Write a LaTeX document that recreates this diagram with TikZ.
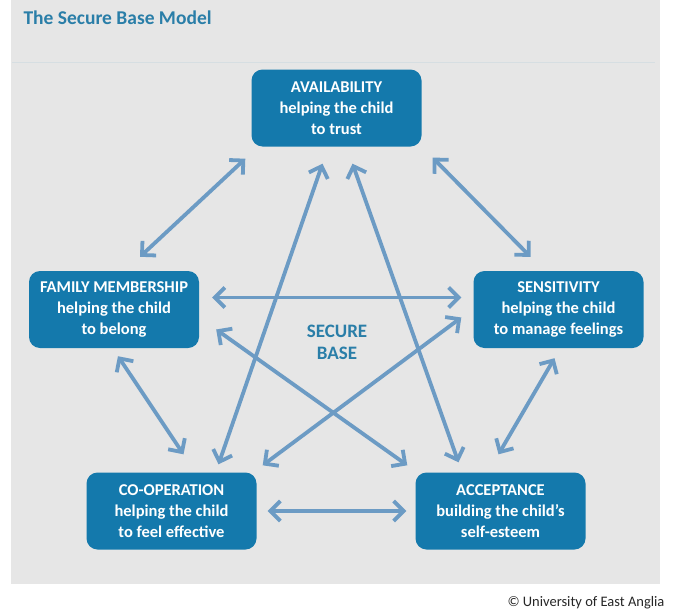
\documentclass[tikz,border=0pt]{standalone}
\usepackage{fontspec}
\setmainfont{Carlito}
\usetikzlibrary{arrows.meta}
\definecolor{panelgray}{RGB}{230,230,230}
\definecolor{boxblue}{RGB}{20,121,172}
\definecolor{titleblue}{RGB}{42,126,168}
\definecolor{arrowblue}{RGB}{108,155,196}
\definecolor{ruleline}{RGB}{214,222,226}
\tikzset{
  stage/.style={draw=none, fill=boxblue, rounded corners=11pt, text=white,
    font=\bfseries\fontsize{16.5}{21}\selectfont, align=center,
    minimum width=170pt, minimum height=77pt, inner sep=0pt},
  link/.style={draw=arrowblue, line width=3.8pt,
    {Straight Barb[length=10pt,width=20pt,line width=3.8pt]}-{Straight Barb[length=10pt,width=20pt,line width=3.8pt]}},
}
\begin{document}
\begin{tikzpicture}[x=1pt,y=-1pt]
\useasboundingbox (0,0) rectangle (675,616);
% grey panel and heading
\fill[panelgray] (11,0) rectangle (660,584);
\draw[ruleline, line width=1pt] (12,62) -- (655,62);
\node[anchor=west, text=titleblue, font=\bfseries\fontsize{19.5}{21}\selectfont] (title) at (20,18) {The Secure Base Model};

% the five stages
\node[stage] (avail)  at (336.5,108)   {AVAILABILITY\\helping the child\\to trust};
\node[stage] (family) at (114,309.5)   {FAMILY MEMBERSHIP\\helping the child\\to belong};
\node[stage] (sens)   at (558.5,309.5) {SENSITIVITY\\helping the child\\to manage feelings};
\node[stage] (coop)   at (171.5,511)   {CO-OPERATION\\helping the child\\to feel effective};
\node[stage] (accept) at (500.5,511)   {ACCEPTANCE\\building the child's\\self-esteem};

\node[text=titleblue, font=\bfseries\fontsize{19}{22}\selectfont, align=center] (core) at (337,342) {SECURE\\BASE};

% two-way links between stages
\draw[link] ([shift={(-6,12)}]avail.south west) -- ([shift={(26,-14)}]family.north);
\draw[link] ([shift={(11,11)}]avail.south east) -- ([shift={(-28,-14)}]sens.north);
\draw[link] ([shift={(13,-12)}]family.east) -- ([shift={(-12,-12)}]sens.west);
\draw[link] ([shift={(17,20)}]family.east) -- ([shift={(-8,-7)}]accept.north west);
\draw[link] ([shift={(-12,8)}]sens.west) -- ([shift={(6,-7)}]coop.north east);
\draw[link] ([shift={(-14,17)}]avail.south) -- ([shift={(47,-8)}]coop.north);
\draw[link] ([shift={(16,17)}]avail.south) -- ([shift={(-42,-10)}]accept.north);
\draw[link] ([shift={(4,8)}]family.south) -- ([shift={(12,-18)}]coop.north);
\draw[link] ([shift={(-4,10)}]sens.south) -- ([shift={(-2,-18)}]accept.north);
\draw[link] ([shift={(11,0)}]coop.east) -- ([shift={(-9,0)}]accept.west);

% credit line
\node[anchor=east, font=\fontsize{14.5}{16}\selectfont, text=black!85] (credit) at (668,603) {\textcopyright\ University of East Anglia};
\end{tikzpicture}
\end{document}
